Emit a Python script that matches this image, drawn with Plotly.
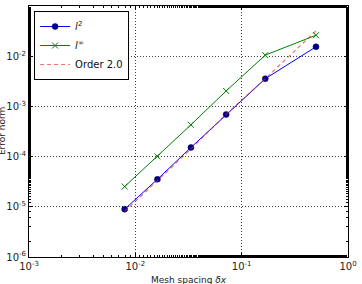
import plotly.graph_objects as go

dx = [1/126, 1/62, 1/30, 1/14, 1/6, 1/2]
err_l2 = [8.95e-6, 3.53e-5, 1.52e-4, 6.9e-4, 3.56e-3, 1.54e-2]
err_linf = [2.53e-5, 1.01e-4, 4.3e-4, 2.03e-3, 1.05e-2, 2.62e-2]
order2 = [8.1e-6, 3.33e-5, 1.42e-4, 7.0e-4, 3.56e-3, 3.2e-2]

xtickvals = [1e-3, 1e-2, 1e-1, 1e0]
xticktext = ["10<sup>-3</sup>", "10<sup>-2</sup>", "10<sup>-1</sup>", "10<sup>0</sup>"]
ytickvals = [1e-6, 1e-5, 1e-4, 1e-3, 1e-2, 1e-1]
yticktext = ["10<sup>-6</sup>", "10<sup>-5</sup>", "10<sup>-4</sup>", "10<sup>-3</sup>", "10<sup>-2</sup>", "10<sup>-1</sup>"]

fig = go.Figure()
fig.add_trace(go.Scatter(x=dx, y=err_l2, mode="lines+markers", name="<i>l</i><sup>2</sup>",
                         line=dict(color="#0000ff", width=1),
                         marker=dict(symbol="circle", size=6, color="#000090",
                                     line=dict(color="#000040", width=0.5))))
fig.add_trace(go.Scatter(x=dx, y=err_linf, mode="lines+markers", name="<i>l</i><sup>∞</sup>",
                         line=dict(color="#008000", width=1),
                         marker=dict(symbol="x-thin", size=6, color="#008000",
                                     line=dict(color="#008000", width=1))))
fig.add_trace(go.Scatter(x=dx, y=order2, mode="lines", name="Order 2.0",
                         line=dict(color="rgba(230,40,40,0.65)", width=1.2, dash="4px,3px")))

axis_common = dict(type="log", showline=True, linecolor="black", linewidth=1, mirror="allticks",
                   ticks="inside", ticklen=4, tickcolor="black", tickwidth=1,
                   showgrid=True, gridcolor="rgba(0,0,0,0.75)", gridwidth=1, griddash="1px,2px",
                   zeroline=False, tickfont=dict(family="DejaVu Sans", size=10, color="#222"),
                   minor=dict(ticks="inside", ticklen=2, tickcolor="black", tickwidth=0.6, showgrid=False))

fig.update_xaxes(range=[-3, 0], tickvals=xtickvals, ticktext=xticktext, **axis_common)
fig.update_yaxes(range=[-6, -1], tickvals=ytickvals, ticktext=yticktext, **axis_common)

fig.update_layout(
    width=362, height=284,
    margin=dict(l=29, r=9, t=5, b=27),
    paper_bgcolor="white", plot_bgcolor="white",
    font=dict(family="DejaVu Sans", size=9, color="#222"),
    showlegend=True,
    legend=dict(x=0.016, y=0.98, xanchor="left", yanchor="top",
                bordercolor="black", borderwidth=1, bgcolor="white",
                font=dict(family="DejaVu Sans", size=10, color="#111"),
                itemwidth=30, tracegroupgap=0),
    annotations=[
        dict(text="Mesh spacing <i>δx</i>", xref="paper", yref="paper", x=0.5, y=-0.065,
             xanchor="center", yanchor="top", showarrow=False,
             font=dict(family="DejaVu Sans", size=9, color="#222")),
        dict(text="Error norm", xref="paper", yref="paper", x=-0.086, y=0.5,
             xanchor="center", yanchor="middle", textangle=-90, showarrow=False,
             font=dict(family="DejaVu Sans", size=9, color="#222")),
    ],
)

fig.write_html("out.html")
